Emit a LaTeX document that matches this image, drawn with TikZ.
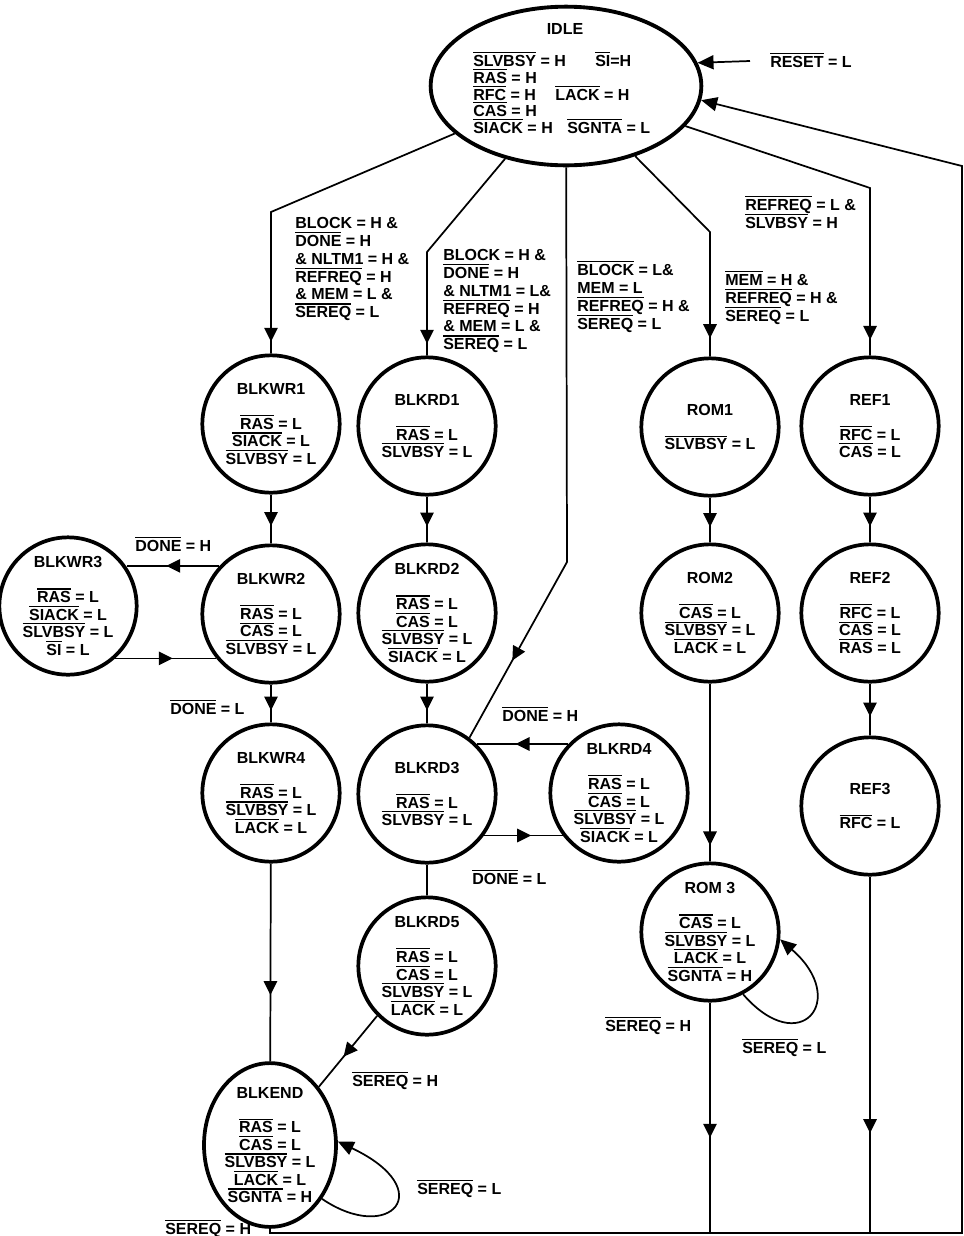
\documentclass[tikz,border=0pt]{standalone}
\usepackage{fontspec}
\setmainfont{Liberation Sans}
\usetikzlibrary{arrows.meta,decorations.markings,shapes.geometric}
\newcommand\ovl[1]{\leavevmode\vbox{\hrule height 0.9pt\kern1.5pt\hbox{#1}}}
\newcommand\fsz{\fontsize{12}{13.1}\selectfont\bfseries}
\tikzset{
 state/.style={circle,draw,line width=2.8pt,minimum size=103pt,inner sep=0pt,align=center,font=\fsz},
 conn/.style={line width=1.3pt},
 lbl/.style={anchor=base west,inner sep=0pt,font=\fsz},
 cond/.style={anchor=north west,inner sep=0pt,align=left,font=\fontsize{12}{13.4}\selectfont\bfseries},
 marr/.style={postaction={decorate,decoration={markings,mark=at position #1 with {\fill (5.2pt,0pt) -- (-5.2pt,5.2pt) -- (-5.2pt,-5.2pt) -- cycle;}}}},
 endtip/.style={-{Triangle[length=12pt,width=10.5pt]}},
}
\begin{document}
\begin{tikzpicture}[x=0.75pt,y=-0.75pt]
\useasboundingbox (0,0) rectangle (964,1236);
% IDLE
\node[draw,ellipse,line width=2.9pt,minimum width=203pt,minimum height=119pt,inner sep=0pt] (idle) at (566,86) {};
\node[lbl,anchor=base] (idlet) at (565,34) {IDLE};
\node[lbl] (i1) at (473,66) {\ovl{SLVBSY} = H};
\node[lbl] (i2) at (595,66) {\ovl{SI}=H};
\node[lbl] (i3) at (473,83) {\ovl{RAS} = H};
\node[lbl] (i4) at (473,100) {\ovl{RFC} = H};
\node[lbl] (i5) at (555,100) {\ovl{LACK} = H};
\node[lbl] (i6) at (473,116.5) {\ovl{CAS} = H};
\node[lbl] (i7) at (473,133) {\ovl{SIACK} = H};
\node[lbl] (i8) at (567,133) {\ovl{SGNTA} = L};
% states
\node[state] (blkwr1) at (271,424) {BLKWR1\\[13pt]\ovl{RAS} = L\\\ovl{SIACK} = L\\\ovl{SLVBSY} = L};
\node[state] (blkwr2) at (271,614) {BLKWR2\\[13pt]\ovl{RAS} = L\\\ovl{CAS} = L\\\ovl{SLVBSY} = L};
\node[state] (blkwr3) at (68,606) {BLKWR3\\[13pt]\ovl{RAS} = L\\\ovl{SIACK} = L\\\ovl{SLVBSY} = L\\\ovl{SI} = L};
\node[state] (blkwr4) at (271,793) {BLKWR4\\[13pt]\ovl{RAS} = L\\\ovl{SLVBSY} = L\\\ovl{LACK} = L};
\node[state,ellipse,minimum width=99pt,minimum height=121pt] (blkend) at (270,1145) {BLKEND\\[13pt]\ovl{RAS} = L\\\ovl{CAS} = L\\\ovl{SLVBSY} = L\\\ovl{LACK} = L\\\ovl{SGNTA} = H};
\node[state] (blkrd1) at (427,426) {BLKRD1\\[13pt]\ovl{RAS} = L\\\ovl{SLVBSY} = L};
\node[state] (blkrd2) at (427,613) {BLKRD2\\[13pt]\ovl{RAS} = L\\\ovl{CAS} = L\\\ovl{SLVBSY} = L\\\ovl{SIACK} = L};
\node[state] (blkrd3) at (427,794) {BLKRD3\\[13pt]\ovl{RAS} = L\\\ovl{SLVBSY} = L};
\node[state] (blkrd4) at (619,793) {BLKRD4\\[13pt]\ovl{RAS} = L\\\ovl{CAS} = L\\\ovl{SLVBSY} = L\\\ovl{SIACK} = L};
\node[state] (blkrd5) at (427,966) {BLKRD5\\[13pt]\ovl{RAS} = L\\\ovl{CAS} = L\\\ovl{SLVBSY} = L\\\ovl{LACK} = L};
\node[state] (rom1) at (710,427) {ROM1\\[13pt]\ovl{SLVBSY} = L};
\node[state] (rom2) at (710,613) {ROM2\\[13pt]\ovl{CAS} = L\\\ovl{SLVBSY} = L\\\ovl{LACK} = L};
\node[state] (rom3) at (710,932) {ROM 3\\[13pt]\ovl{CAS} = L\\\ovl{SLVBSY} = L\\\ovl{LACK} = L\\\ovl{SGNTA} = H};
\node[state] (ref1) at (870,426) {REF1\\[13pt]\ovl{RFC} = L\\\ovl{CAS} = L};
\node[state] (ref2) at (870,613) {REF2\\[13pt]\ovl{RFC} = L\\\ovl{CAS} = L\\\ovl{RAS} = L};
\node[state] (ref3) at (870,806) {REF3\\[13pt]\ovl{RFC} = L};
% condition labels
\node[cond] (c1) at (295,217) {BLOCK = H \&\\\ovl{DONE} = H\\\& NLTM1 = H \&\\\ovl{REFREQ} = H\\\& MEM = L \&\\\ovl{SEREQ} = L};
\node[cond] (c2) at (443,249) {BLOCK = H \&\\\ovl{DONE} = H\\\& NLTM1 = L\&\\\ovl{REFREQ} = H\\\& MEM = L \&\\\ovl{SEREQ} = L};
\node[cond] (c3) at (577,261) {\ovl{BLOCK} = L\&\\MEM = L\\\ovl{REFREQ} = H \&\\\ovl{SEREQ} = L};
\node[cond] (c4) at (725,271) {\ovl{MEM} = H \&\\\ovl{REFREQ} = H \&\\\ovl{SEREQ} = L};
\node[cond] (c5) at (745,196) {\ovl{REFREQ} = L \&\\\ovl{SLVBSY} = H};
% other labels
\node[lbl] (dwh) at (135,551) {\ovl{DONE} = H};
\node[lbl] (dwl) at (170,714) {\ovl{DONE} = L};
\node[lbl] (drh) at (502,721) {\ovl{DONE} = H};
\node[lbl] (drl) at (472,884) {\ovl{DONE} = L};
\node[lbl] (s5h) at (352,1086) {\ovl{SEREQ} = H};
\node[lbl] (sel) at (417,1194) {\ovl{SEREQ} = L};
\node[lbl] (seh) at (165,1234) {\ovl{SEREQ} = H};
\node[lbl] (srh) at (605,1031) {\ovl{SEREQ} = H};
\node[lbl] (srl) at (742,1053) {\ovl{SEREQ} = L};
\node[lbl] (rst) at (770,67) {\ovl{RESET} = L};
% connectors from IDLE
\coordinate (cwr1) at (271,212);
\draw[conn,marr=-14pt] (idle) -- (cwr1) -- (blkwr1);
\coordinate (crd1) at (427,252);
\draw[conn,marr=-14pt] (idle) -- (crd1) -- (blkrd1);
\coordinate (crd3) at (567,562);
\draw[conn,marr=0.84] (idle) -- (crd3) -- (blkrd3.53);
\coordinate (crom1) at (710,232);
\draw[conn,marr=-19pt] (idle) -- (crom1) -- (rom1);
\coordinate (cref1) at (870,188);
\draw[conn,marr=-17pt] (idle) -- (cref1) -- (ref1);
% block write
\draw[conn,marr=0.5] (blkwr1) -- (blkwr2);
\draw[conn,marr=0.5] (blkwr2) -- (blkwr4);
\draw[conn,marr=0.63] (blkwr4) -- (blkend);
\draw[conn,marr=0.5] (blkwr2.137.8) -- (blkwr2.137.8 -| blkwr3.33.9);
\draw[conn,marr=0.5] (blkwr3.-48) -- (blkwr3.-48 -| blkwr2.-141);
% block read
\draw[conn,marr=0.5] (blkrd1) -- (blkrd2);
\draw[conn,marr=0.5] (blkrd2) -- (blkrd3);
\draw[conn,marr=0.5] (blkrd4.136.7) -- (blkrd4.136.7 -| blkrd3.45.6);
\draw[conn,marr=0.5] (blkrd3.-36.9) -- (blkrd3.-36.9 -| blkrd4.-141);
\draw[conn] (blkrd3) -- (blkrd5);
\draw[conn,marr=0.5] (blkrd5.225) -- (blkend.50);
% rom / ref
\draw[conn,marr=0.5] (rom1) -- (rom2);
\draw[conn,marr=0.87] (rom2) -- (rom3);
\draw[conn,marr=0.5] (ref1) -- (ref2);
\draw[conn,marr=0.5] (ref2) -- (ref3);
\coordinate (brom) at (710,1233);
\coordinate (bref) at (870,1233);
\draw[conn,marr=0.556] (rom3) -- (brom);
\draw[conn,marr=0.70] (ref3) -- (bref);
% return to idle
\coordinate (bl) at (270,1233);
\coordinate (br) at (962,1233);
\coordinate (tr) at (962,166);
\draw[conn,endtip] (blkend) -- (bl) -- (br) -- (tr) -- (idle.-6);
\coordinate (rs) at (750,61);
\draw[conn,endtip] (rs) -- (idle.10.7);
% self loops
\draw[conn,endtip] (rom3.-62) .. controls (800,1060) and (850,1000) .. (rom3.-6);
\draw[conn,endtip] (blkend.-46) .. controls (390,1245) and (440,1190) .. (blkend.3);
\end{tikzpicture}
\end{document}
